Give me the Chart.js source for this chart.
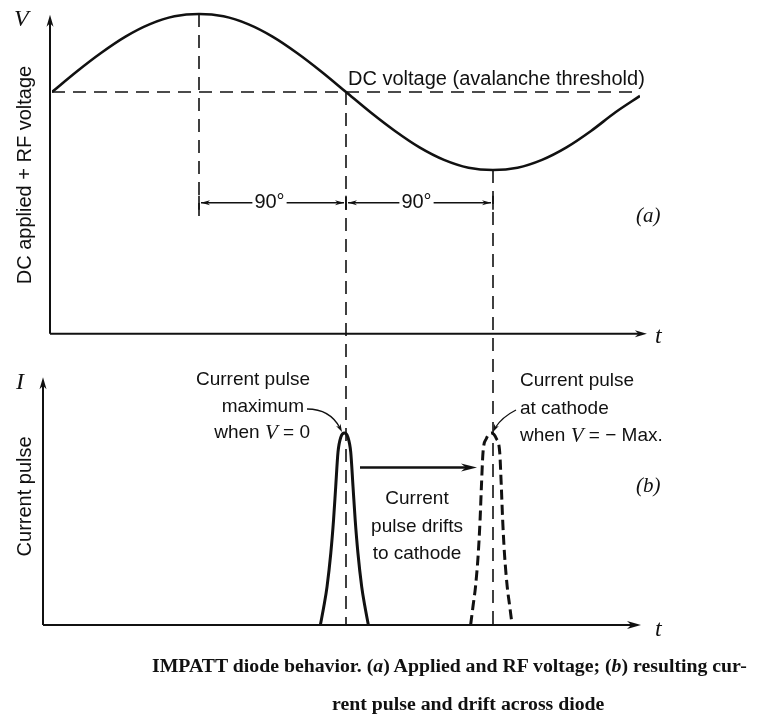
<!DOCTYPE html>
<html lang="en">
<head>
<meta charset="utf-8">
<title>IMPATT diode behavior</title>
<script src="https://cdn.jsdelivr.net/npm/chart.js"></script>
<style>
  body { margin: 0; background: #fff; }
  #wrap { position: relative; width: 759px; height: 719px; }
  #chart { position: absolute; left: 0; top: 0; }
  .cap { position: absolute; font: bold 19.8px "Liberation Serif", "Times New Roman", serif; color: #111; white-space: nowrap; }
</style>
</head>
<body>
<div id="wrap">
  <canvas id="chart" width="759" height="719"></canvas>
  <div class="cap" style="left:152px;top:654px">IMPATT diode behavior. (<i>a</i>) Applied and RF voltage; (<i>b</i>) resulting cur-</div>
  <div class="cap" style="left:332px;top:692px">rent pulse and drift across diode</div>
</div>

<script>
// phase of the RF cycle, degrees
const phase = [0, 15, 30, 45, 60, 75, 90, 105, 120, 135, 150, 165, 180,
               195, 210, 225, 240, 255, 270, 285, 300, 315, 330, 345, 360];
// DC applied + RF voltage, relative to the DC level (peak = 1)
const rfVoltage = [0, 0.26, 0.5, 0.71, 0.87, 0.97, 1, 0.97, 0.87, 0.71, 0.5, 0.26, 0,
                   -0.26, -0.5, -0.71, -0.87, -0.97, -1, -0.97, -0.87, -0.71, -0.5, -0.26, -0.05];
const dcPhase = [0, 360];
const dcLevel = [0, 0];

// current pulse when V = 0
const pulseNowPhase = [164.3, 166.5, 168.4, 170.7, 172.4, 173.7, 175.1, 176.9, 179,
                       181.1, 182.9, 184.3, 185.6, 187.3, 189.6, 191.5, 193.7];
const pulseNowCurrent = [0, 0.1, 0.2, 0.375, 0.55, 0.72, 0.9, 0.98, 1,
                         0.98, 0.9, 0.72, 0.55, 0.375, 0.2, 0.1, 0];

// current pulse at the cathode when V = -Max
const pulseDriftPhase = [256.3, 257.8, 259.3, 261, 262.1, 262.9, 263.9, 265.9, 269,
                         272.1, 274.1, 275.1, 275.9, 277, 278.7, 280.2, 281.7];
const pulseDriftCurrent = [0, 0.1, 0.2, 0.375, 0.55, 0.72, 0.9, 0.97, 1,
                           0.97, 0.9, 0.72, 0.55, 0.375, 0.2, 0.1, 0];

// marked phase points
const markPhase = [90, 180, 270];
const markLabel = '90°';

const ink = '#111';
const sans = '"Liberation Sans", Arial, Helvetica, sans-serif';
const serif = '"Liberation Serif", "Times New Roman", serif';

const pts = (xs, ys) => xs.map((v, i) => ({ x: v, y: ys[i] }));

// plot area in pixels: both panels share one chart area, each with its own y scale
const areaTop = 10, areaBottom = 625, dcY = 92, vUnit = 78, iUnit = 192;
const vMax = (dcY - areaTop) / vUnit;
const vMin = vMax - (areaBottom - areaTop) / vUnit;
const iMax = (areaBottom - areaTop) / iUnit;

function seg(ctx, x1, y1, x2, y2, w, dash) {
  ctx.save();
  ctx.lineWidth = w;
  ctx.setLineDash(dash || []);
  ctx.beginPath();
  ctx.moveTo(x1, y1);
  ctx.lineTo(x2, y2);
  ctx.stroke();
  ctx.restore();
}

function head(ctx, x, y, ang, len, half) {
  ctx.save();
  ctx.translate(x, y);
  ctx.rotate(ang);
  ctx.beginPath();
  ctx.moveTo(0, 0);
  ctx.lineTo(-len, -half);
  ctx.lineTo(-len * 0.7, 0);
  ctx.lineTo(-len, half);
  ctx.closePath();
  ctx.fill();
  ctx.restore();
}

function rich(ctx, parts, x, y, align) {
  let w = 0;
  parts.forEach(p => { ctx.font = p[1]; w += ctx.measureText(p[0]).width; });
  let cx = align === 'right' ? x - w : align === 'center' ? x - w / 2 : x;
  ctx.textAlign = 'left';
  parts.forEach(p => {
    ctx.font = p[1];
    ctx.fillText(p[0], cx, y);
    cx += ctx.measureText(p[0]).width;
  });
}

const diagram = {
  id: 'diagram',
  afterDatasetsDraw(chart) {
    const { ctx, scales } = chart;
    const px = v => scales.x.getPixelForValue(v);
    const pv = v => scales.yV.getPixelForValue(v);
    const pi = v => scales.yI.getPixelForValue(v);
    const left = chart.chartArea.left;

    ctx.save();
    ctx.strokeStyle = ink;
    ctx.fillStyle = ink;
    ctx.textBaseline = 'middle';

    // axes of panel (a)
    const ax = left - 2, ay = pv(-3.1);
    seg(ctx, ax, ay, ax, pv(0.99) + 6, 2);
    head(ctx, ax, pv(0.99), -Math.PI / 2, 12, 3.5);
    seg(ctx, ax, ay, px(363) - 6, ay, 2);
    head(ctx, px(363) + 2, ay, 0, 12, 3.5);

    // axes of panel (b)
    const bx = left - 9, by = pi(0);
    seg(ctx, bx, by, bx, pi(1.29) + 6, 2);
    head(ctx, bx, pi(1.29), -Math.PI / 2, 12, 3.5);
    seg(ctx, bx, by, px(360) - 6, by, 2);
    head(ctx, px(360) + 1, by, 0, 14, 4);

    // dashed phase markers
    const dash = [13, 8];
    seg(ctx, px(markPhase[0]), pv(1), px(markPhase[0]), pv(-1.67), 1.6, dash);
    seg(ctx, px(markPhase[1]), pv(0), px(markPhase[1]), pi(0), 1.6, dash);
    seg(ctx, px(markPhase[2]), pv(-1), px(markPhase[2]), pi(0), 1.6, dash);

    // 90 degree spans
    const sy = pv(-1.42);
    ctx.font = '20px ' + sans;
    ctx.textAlign = 'center';
    for (let k = 0; k < 2; k++) {
      const a = px(markPhase[k]) + 2, b = px(markPhase[k + 1]) - 2;
      const mid = (a + b) / 2 - 3;
      const tw = ctx.measureText(markLabel).width;
      seg(ctx, a, sy, mid - tw / 2 - 2, sy, 1.3);
      seg(ctx, mid + tw / 2 + 2, sy, b, sy, 1.3);
      head(ctx, a, sy, Math.PI, 9, 2.5);
      head(ctx, b, sy, 0, 9, 2.5);
      seg(ctx, px(markPhase[k]), sy - 7, px(markPhase[k]), sy + 7, 1.6);
      ctx.fillText(markLabel, mid, sy);
    }
    seg(ctx, px(markPhase[2]), sy - 7, px(markPhase[2]), sy + 7, 1.6);

    // texts of panel (a)
    ctx.textAlign = 'left';
    ctx.font = '20px ' + sans;
    ctx.fillText('DC voltage (avalanche threshold)', 348, pv(0) - 13);
    ctx.font = 'italic 21px ' + serif;
    ctx.fillText('(a)', 636, pv(-1.6));
    ctx.font = 'italic 24px ' + serif;
    ctx.fillText('V', 14, 20);
    ctx.fillText('t', 655, ay + 3);

    ctx.save();
    ctx.translate(25, 175);
    ctx.rotate(-Math.PI / 2);
    ctx.textAlign = 'center';
    ctx.font = '20px ' + sans;
    ctx.fillText('DC applied + RF voltage', 0, 0);
    ctx.restore();

    // texts of panel (b)
    ctx.font = 'italic 24px ' + serif;
    ctx.fillText('I', 16, pi(1.26));
    ctx.fillText('t', 655, by + 5);

    ctx.save();
    ctx.translate(25, pi(0.67));
    ctx.rotate(-Math.PI / 2);
    ctx.textAlign = 'center';
    ctx.font = '20px ' + sans;
    ctx.fillText('Current pulse', 0, 0);
    ctx.restore();

    const f = '19px ' + sans, fi = 'italic 21px ' + serif;
    const peakY = pi(1);
    rich(ctx, [['Current pulse', f]], 310, peakY - 53, 'right');
    rich(ctx, [['maximum', f]], 304, peakY - 26, 'right');
    rich(ctx, [['when ', f], ['V', fi], [' = 0', f]], 310, peakY, 'right');

    rich(ctx, [['Current pulse', f]], 520, peakY - 52, 'left');
    rich(ctx, [['at cathode', f]], 520, peakY - 24, 'left');
    rich(ctx, [['when ', f], ['V', fi], [' = − Max.', f]], 520, peakY + 3, 'left');

    ctx.font = 'italic 21px ' + serif;
    ctx.fillText('(b)', 636, pi(0.72));

    ctx.font = f;
    ctx.textAlign = 'center';
    ctx.fillText('Current', 417, pi(0.66));
    ctx.fillText('pulse drifts', 417, pi(0.51));
    ctx.fillText('to cathode', 417, pi(0.37));

    // drift arrow
    const dy = pi(0.82);
    seg(ctx, 360, dy, 469, dy, 2.5);
    head(ctx, 477, dy, 0, 16, 4);

    // pointer arrows
    ctx.lineWidth = 1.3;
    ctx.beginPath();
    ctx.moveTo(307, peakY - 24);
    ctx.quadraticCurveTo(330, peakY - 24, 340, peakY - 5);
    ctx.stroke();
    head(ctx, 342, peakY - 1, Math.atan2(19, 10), 8, 2.5);

    ctx.beginPath();
    ctx.moveTo(516, peakY - 23);
    ctx.quadraticCurveTo(502, peakY - 16, 495, peakY - 5);
    ctx.stroke();
    head(ctx, 493, peakY - 1, Math.atan2(8, -4), 8, 2.5);

    ctx.restore();
  }
};

new Chart(document.getElementById('chart'), {
  type: 'line',
  data: {
    datasets: [
      { data: pts(phase, rfVoltage), yAxisID: 'yV', borderColor: ink, borderWidth: 2.6,
        cubicInterpolationMode: 'monotone' },
      { data: pts(dcPhase, dcLevel), yAxisID: 'yV', borderColor: ink, borderWidth: 1.6,
        borderDash: [13, 8] },
      { data: pts(pulseNowPhase, pulseNowCurrent), yAxisID: 'yI', borderColor: ink, borderWidth: 3,
        cubicInterpolationMode: 'monotone' },
      { data: pts(pulseDriftPhase, pulseDriftCurrent), yAxisID: 'yI', borderColor: ink, borderWidth: 3,
        borderDash: [10, 5], cubicInterpolationMode: 'monotone' }
    ]
  },
  options: {
    responsive: false,
    animation: false,
    events: [],
    layout: { padding: { left: 52, right: 759 - 640, top: areaTop, bottom: 719 - areaBottom } },
    elements: { point: { radius: 0 } },
    plugins: { legend: { display: false }, tooltip: { enabled: false } },
    scales: {
      x: { type: 'linear', min: 0, max: 360, display: false },
      yV: { type: 'linear', position: 'left', min: vMin, max: vMax, display: false },
      yI: { type: 'linear', position: 'right', min: 0, max: iMax, display: false }
    }
  },
  plugins: [diagram]
});
</script>
</body>
</html>
